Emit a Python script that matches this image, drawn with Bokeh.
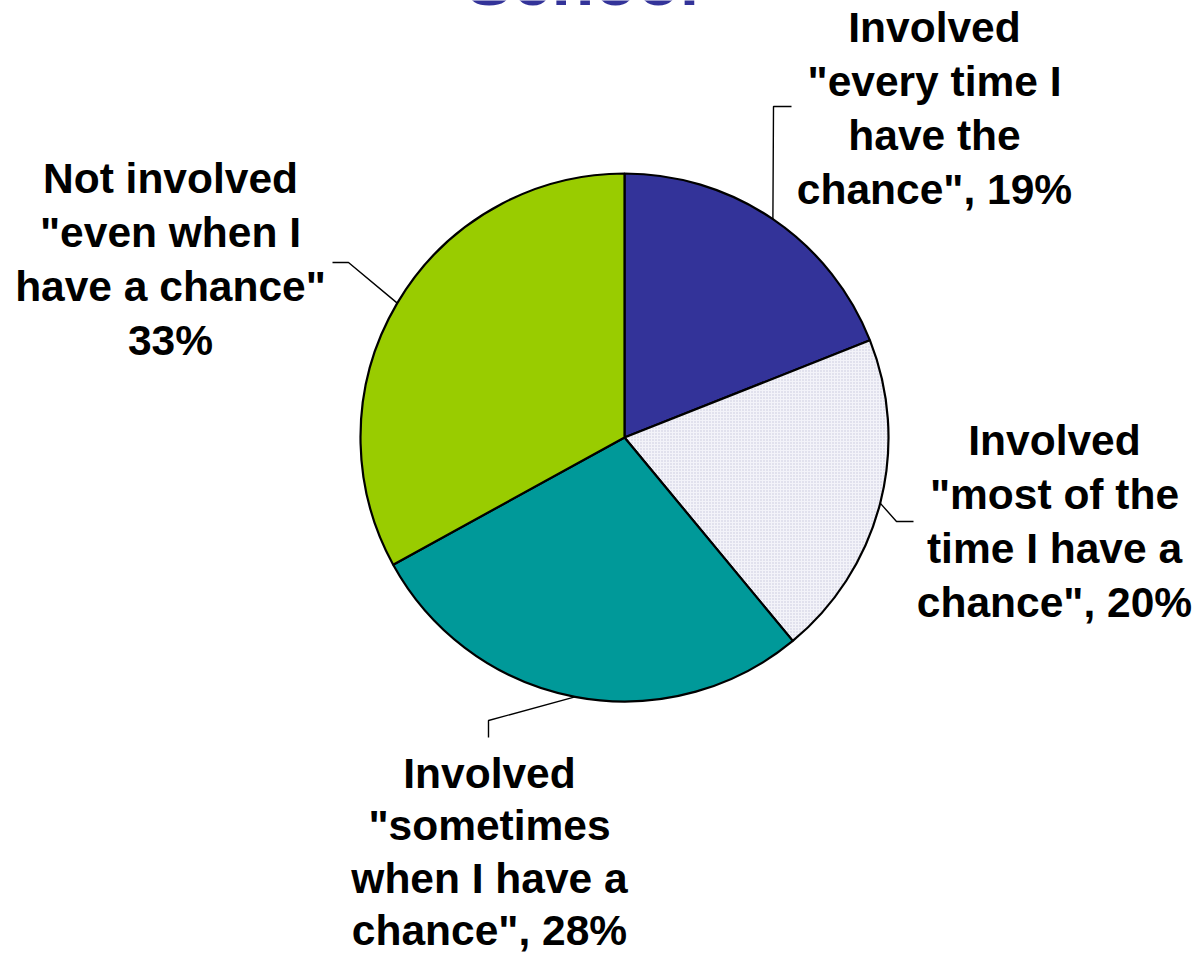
import math
from bokeh.plotting import figure
from bokeh.models import Range1d, ColumnDataSource
from bokeh.core.properties import value
from bokeh.embed import file_html
from bokeh.resources import INLINE

# ---- data ----
categories = [
    'Involved "every time I have the chance"',
    'Involved "most of the time I have a chance"',
    'Involved "sometimes when I have a chance"',
    'Not involved "even when I have a chance"',
]
values = [19, 20, 28, 33]
colors = ["#333399", "#F3F3F9", "#009999", "#99CC00"]
hatches = [" ", "dot", " ", " "]
label_lines = [
    ["Involved", '"every time I', "have the", 'chance", 19%'],
    ["Involved", '"most of the', "time I have a", 'chance", 20%'],
    ["Involved", '"sometimes', "when I have a", 'chance", 28%'],
    ["Not involved", '"even when I', 'have a chance"', "33%"],
]
title_text = "School"

# ---- layout ----
W, H = 1199, 956


def Y(y_ref):
    return H - y_ref


CX, CY, R = 624, Y(437), 264
label_x = [934, 1054, 489, 170]
label_base = [42, 455, 788, 193]
label_step = [54.3, 54.3, 52.6, 54.3]
TEXT_SHIFT = 15.5   # compensate rendering offset of the alphabetic baseline
elbows = [((773, 106), (791, 106)),
          ((896, 521), (913, 521)),
          ((488, 720), (488, 737)),
          ((348, 262), (332, 262))]

total = float(sum(values))
starts, ends, mids = [], [], []
cum = 0.0
for v in values:
    a0 = math.pi / 2 - 2 * math.pi * cum / total
    cum += v
    a1 = math.pi / 2 - 2 * math.pi * cum / total
    starts.append(a0)
    ends.append(a1)
    mids.append((a0 + a1) / 2)

src = ColumnDataSource(dict(cat=categories, val=values, start=starts, end=ends,
                            color=colors, hatch=hatches))

p = figure(width=W, height=H, x_range=Range1d(0, W), y_range=Range1d(0, H),
           output_backend="svg", toolbar_location=None, min_border=0)
p.axis.visible = False
p.grid.visible = False
p.outline_line_color = None
p.background_fill_color = "white"
p.border_fill_color = "white"

p.wedge(x=CX, y=CY, radius=R, start_angle="start", end_angle="end", direction="clock",
        fill_color="color", line_color="black", line_width=2.2, source=src,
        hatch_pattern="hatch", hatch_color="#C4C4DC", hatch_scale=3, hatch_weight=1)

# leader lines
xs, ys = [], []
for m, (e1, e2) in zip(mids, elbows):
    sx = CX + R * math.cos(m)
    sy = CY + R * math.sin(m)
    xs.append([sx, e1[0], e2[0]])
    ys.append([sy, Y(e1[1]), Y(e2[1])])
p.multi_line(xs=xs, ys=ys, line_color="black", line_width=1.4)

# labels
tx, ty, tt = [], [], []
for lines, x0, b0, st in zip(label_lines, label_x, label_base, label_step):
    for i, ln in enumerate(lines):
        tx.append(x0)
        ty.append(Y(b0 + i * st - TEXT_SHIFT))
        tt.append(ln)
p.text(x=tx, y=ty, text=tt, text_font=value("Liberation Sans"), text_font_style="bold",
       text_font_size="42.5px", text_align="center", text_baseline="alphabetic",
       text_color="black")

# title (cut off at top as in reference)
p.text(x=[582], y=[Y(6 - 26)], text=[title_text], text_font=value("Liberation Sans"),
       text_font_style="bold", text_font_size="70px", text_align="center",
       text_baseline="alphabetic", text_color="#333399")

open("out.html", "w").write(file_html(p, INLINE))
